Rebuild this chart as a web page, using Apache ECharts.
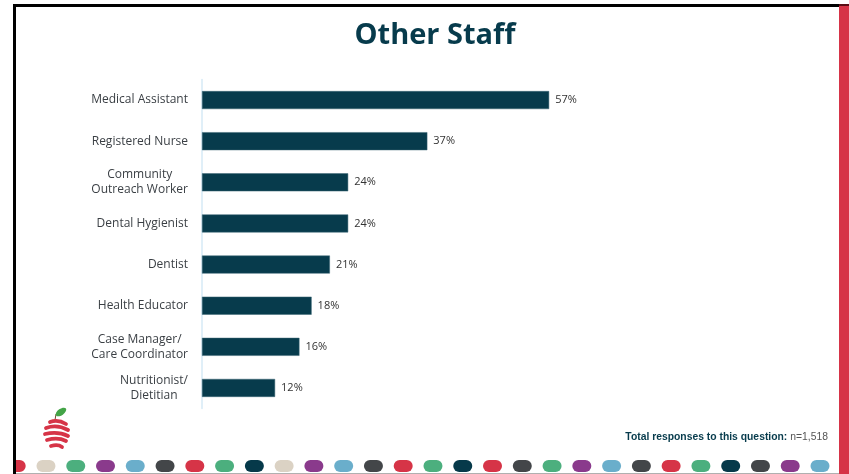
<!DOCTYPE html>
<html>
<head>
<meta charset="utf-8">
<script src="https://cdn.jsdelivr.net/npm/echarts@6/dist/echarts.min.js"></script>
<style>
html,body{margin:0;padding:0;background:#fff;}
#c{width:849px;height:474px;}
</style>
</head>
<body>
<div id="c"></div>
<script>
const categories = [
  "Medical Assistant",
  "Registered Nurse",
  "Community\nOutreach Worker",
  "Dental Hygienist",
  "Dentist",
  "Health Educator",
  "Case Manager/\nCare Coordinator",
  "Nutritionist/\nDietitian"
];
const values = [57, 37, 24, 24, 21, 18, 16, 12];
const xTicks = [0, 100];
const dotColors = [
  "#d63447","#dbd2c4","#4caf7e","#8a3a8c","#6aaecb","#434649","#d63447","#4caf7e",
  "#06394a","#dbd2c4","#8a3a8c","#6aaecb","#434649","#d63447","#4caf7e","#06394a",
  "#d63447","#434649","#4caf7e","#8a3a8c","#6aaecb","#434649","#d63447","#4caf7e",
  "#06394a","#434649","#8a3a8c","#6aaecb"
];

const navy = "#073b4c";
const chart = echarts.init(document.getElementById('c'), null, {renderer: 'canvas'});

const graphics = [];
// dots
dotColors.forEach((col, i) => {
  const cx = 16.2 + i * 29.77;
  graphics.push({
    type: 'rect', z: 1,
    shape: {x: cx - 9.5, y: 460, width: 19, height: 12, r: 6},
    style: {fill: col}
  });
});
// mask left of frame
graphics.push({type:'rect', z:2, shape:{x:0, y:0, width:13, height:474}, style:{fill:'#fff'}});
// bottom thin gray line
graphics.push({type:'rect', z:2, shape:{x:13, y:473, width:826, height:1}, style:{fill:'#b0b0b0'}});
// frame
graphics.push({type:'rect', z:3, shape:{x:13, y:4, width:826, height:3}, style:{fill:'#000'}});
graphics.push({type:'rect', z:3, shape:{x:13, y:4, width:3, height:470}, style:{fill:'#000'}});
graphics.push({type:'rect', z:3, shape:{x:839, y:4, width:10, height:470}, style:{fill:'#d63447'}});
graphics.push({type:'rect', z:4, shape:{x:839, y:4, width:10, height:2}, style:{fill:'#5a0d15'}});
// logo leaf + stem
graphics.push({type:'line', z:3, shape:{x1:55, y1:420, x2:56, y2:414}, style:{stroke:'#6b4a2a', lineWidth:1}});
graphics.push({type:'ellipse', z:3, rotation: 0.6, originX:61, originY:412,
  shape:{cx:61, cy:412, rx:6, ry:3.2}, style:{fill:'#43a447'}});
// logo stripes
const stripes = [
  [50,422, 58,419, 66,424],
  [46,428, 57,424, 68,430],
  [45,434, 58,431, 68,436],
  [47,440, 58,437, 66,441],
  [51,446, 58,444, 62,447]
];
stripes.forEach(s => {
  graphics.push({type:'bezierCurve', z:3,
    shape:{x1:s[0], y1:s[1], cpx1:s[2], cpy1:s[3], x2:s[4], y2:s[5]},
    style:{stroke:'#d63447', lineWidth:3.8, fill:null, lineCap:'round'}});
});
// footnote
graphics.push({type:'text', z:3, x: 828, y: 437, scaleX: 0.9, originX: 0, originY: 0,
  style:{
    text:'{b|Total responses to this question:} {n|n=1,518}',
    align: 'right', verticalAlign: 'middle',
    rich:{
      b:{fontFamily:'Liberation Sans', fontWeight:'bold', fontSize:11.5, fill:navy},
      n:{fontFamily:'Liberation Sans', fontSize:11.5, fill:'#555'}
    }
  }
});
// title
graphics.push({type:'text', z:3, x: 435, y: 36,
  style:{
    text:'Other Staff', align:'center', verticalAlign:'middle',
    fontFamily:'Open Sans', fontWeight:'bold', fontSize:29, fill:navy
  }
});

chart.setOption({
  animation: false,
  grid: {left: 202, top: 79.5, width: 609, height: 329, containLabel: false},
  xAxis: {
    type: 'value', min: xTicks[0], max: xTicks[1],
    show: false, splitLine: {show: false}
  },
  yAxis: {
    type: 'category', data: categories, inverse: true,
    axisLine: {show: true, lineStyle: {color: '#d6eaf6', width: 1.5}},
    axisTick: {show: false},
    axisLabel: {
      margin: 14,
      formatter: v => v.split('\n').map(l => '{c|' + l + '}').join('\n'),
      rich: {c: {align: 'center', fontFamily: 'Open Sans', fontSize: 12, lineHeight: 15, color: '#3a3f44'}}
    }
  },
  series: [{
    type: 'bar', data: values, barWidth: 18,
    itemStyle: {color: navy, borderColor: '#3d6675', borderWidth: 0.5},
    label: {
      show: true, position: 'right', distance: 6,
      formatter: p => p.value + '%',
      fontFamily: 'Open Sans', fontSize: 11, color: '#333'
    }
  }],
  graphic: graphics
});
</script>
</body>
</html>
